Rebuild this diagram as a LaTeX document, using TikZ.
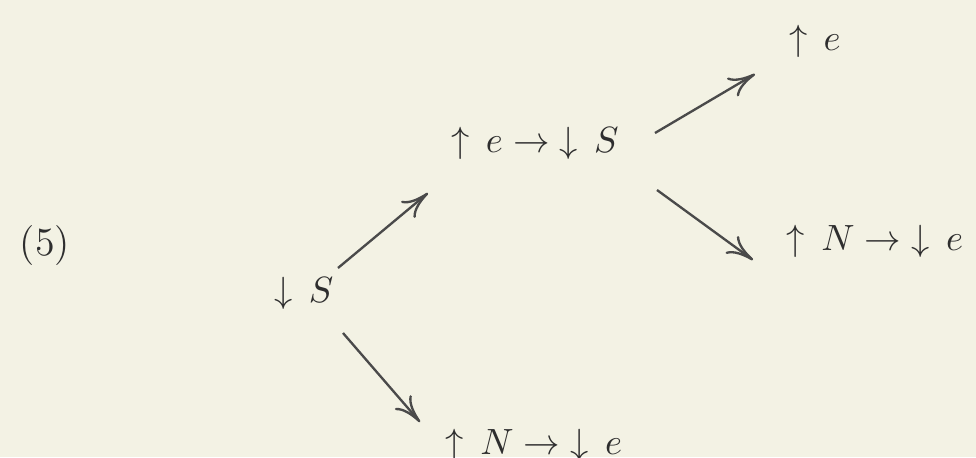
\documentclass[tikz,border=0pt]{standalone}
\usetikzlibrary{arrows.meta}
\definecolor{paper}{HTML}{F3F2E4}
\definecolor{ink}{HTML}{2E2E2E}
\definecolor{pencil}{HTML}{4A4A4A}
\begin{document}
\begin{tikzpicture}[
    x=0.3pt, y=-0.3pt,
    term/.style={inner sep=0pt, anchor=base, text=ink, font=\fontsize{11}{13}\selectfont},
    line/.style={draw=pencil, line width=0.7pt, -{Computer Modern Rightarrow[length=8pt,width=6.5pt]}}
]
    \fill [paper] (0,0) rectangle (976,457);
    \useasboundingbox (0,0) rectangle (976,457);

    \node [term, font=\large] (num) at (45,255) {(5)};

    \node [term] (start) at (304,302) {${\downarrow}\;\,S$};
    \node [term] (mid) at (535,152) {${\uparrow}\;\,e\;{\to}\;{\downarrow}\;\,S$};
    \node [term] (top) at (815,50) {${\uparrow}\;\,e$};
    \node [term] (right) at (875,250) {${\uparrow}\;\,N\;{\to}\;{\downarrow}\;\,e$};
    \node [term] (bottom) at (534,454) {${\uparrow}\;\,N\;{\to}\;{\downarrow}\;\,e$};

    \draw [line] ([shift={(34,-34)}]start.base) -- ([shift={(-107,41)}]mid.base);
    \draw [line] ([shift={(120,-19)}]mid.base) -- ([shift={(-60,24)}]top.base);
    \draw [line] ([shift={(122,38)}]mid.base) -- ([shift={(-122,10)}]right.base);
    \draw [line] ([shift={(39,31)}]start.base) -- ([shift={(-114,-32)}]bottom.base);
\end{tikzpicture}
\end{document}
